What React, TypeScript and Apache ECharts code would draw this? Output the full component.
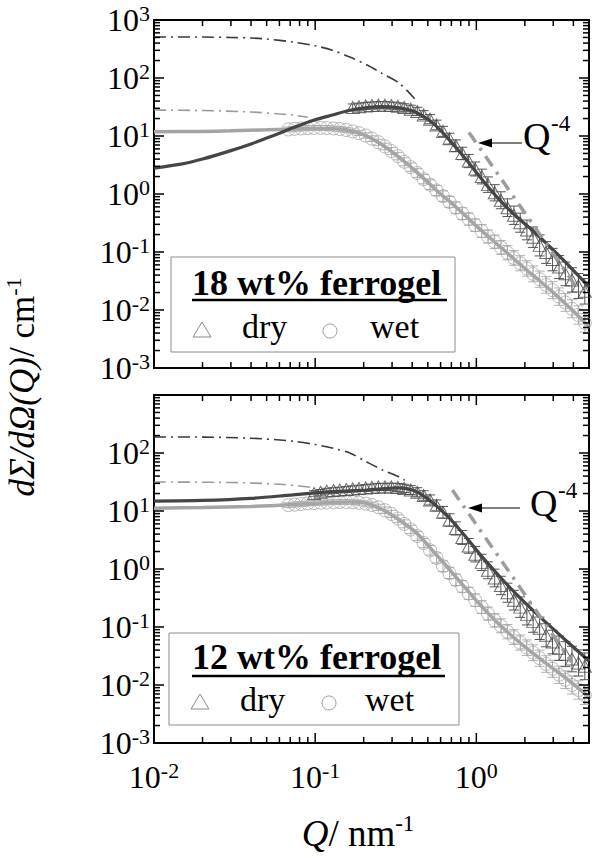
import React, { useEffect, useRef } from 'react';
import * as echarts from 'echarts';

// ---------- data ----------
// measured scattering vector grid, nm^-1
const qGrid = [
  0.0681, 0.0746, 0.0818, 0.0897, 0.0984, 0.108, 0.118, 0.130, 0.142, 0.156,
  0.171, 0.187, 0.206, 0.225, 0.247, 0.271, 0.297, 0.326, 0.357, 0.392,
  0.430, 0.471, 0.516, 0.566, 0.621, 0.681, 0.746, 0.818, 0.897, 0.984,
  1.08, 1.18, 1.30, 1.42, 1.56, 1.71, 1.87, 2.06, 2.25, 2.47,
  2.71, 2.97, 3.26, 3.57, 3.92, 4.30, 4.71,
];

// 18 wt% ferrogel
const iDry18 = [
  31, 32, 33, 33.5, 34, 34, 33.5, 32.5, 31, 29,
  26.5, 23, 19.5, 15.5, 12, 9, 6.8, 5.0, 3.7, 2.7,
  2.0, 1.45, 1.05, 0.78, 0.58, 0.43, 0.32, 0.24, 0.18, 0.13,
  0.098, 0.074, 0.055, 0.042, 0.033, 0.026, 0.021,
];
const eDry18 = [
  0.15, 0.15, 0.15, 0.15, 0.15, 0.15, 0.15, 0.15, 0.16, 0.17,
  0.18, 0.19, 0.2, 0.21, 0.22, 0.24, 0.26, 0.28, 0.3, 0.32,
  0.34, 0.36, 0.38, 0.4, 0.42, 0.44, 0.46, 0.48, 0.5, 0.52,
  0.54, 0.56, 0.58, 0.6, 0.62, 0.64, 0.66,
];
const iWet18 = [
  13.0, 13.3, 13.5, 13.7, 13.8, 13.8, 13.7, 13.5, 13.2, 12.7,
  12.0, 11.2, 10.2, 9.0, 7.8, 6.6, 5.5, 4.5, 3.6, 2.9,
  2.3, 1.8, 1.45, 1.15, 0.92, 0.73, 0.58, 0.46, 0.37, 0.29,
  0.23, 0.185, 0.15, 0.12, 0.097, 0.079, 0.064, 0.052, 0.042, 0.034,
  0.027, 0.022, 0.017, 0.0135, 0.0105, 0.0082, 0.006,
];
const eWet18 = [
  0.1, 0.1, 0.1, 0.1, 0.1, 0.1, 0.1, 0.1, 0.1, 0.1,
  0.1, 0.1, 0.11, 0.12, 0.13, 0.14, 0.15, 0.16, 0.17, 0.18,
  0.19, 0.2, 0.21, 0.22, 0.23, 0.24, 0.25, 0.26, 0.27, 0.28,
  0.29, 0.3, 0.31, 0.32, 0.33, 0.34, 0.35, 0.36, 0.37, 0.38,
  0.39, 0.4, 0.41, 0.42, 0.43, 0.44, 0.45,
];
const qFitDry18 = [0.01, 0.015, 0.02, 0.03, 0.04, 0.05, 0.06, 0.07, 0.085, 0.1, 0.128, 0.164, 0.209, 0.26, 0.333, 0.425, 0.534, 0.681, 0.867, 1.09, 1.39, 1.75, 2.22, 2.8, 3.61, 5.0];
const iFitDry18 = [2.8, 3.3, 4.0, 5.6, 7.3, 9.2, 11.2, 13.3, 16.3, 19.0, 23.0, 27.8, 31.0, 32.2, 30.5, 25.5, 17.0, 8.5, 3.9, 1.75, 0.8, 0.42, 0.24, 0.13, 0.065, 0.025];
const qFitWet18 = [0.01, 0.02, 0.03, 0.05, 0.07, 0.1, 0.13, 0.16, 0.2, 0.25, 0.3, 0.35, 0.4, 0.5, 0.6, 0.7, 0.85, 1.0, 1.2, 1.5, 2.0, 2.5, 3.0, 4.0, 5.0];
const iFitWet18 = [11.8, 12.0, 12.3, 12.8, 13.2, 13.6, 13.4, 12.6, 10.5, 7.6, 5.3, 3.8, 2.8, 1.6, 1.0, 0.7, 0.43, 0.28, 0.18, 0.105, 0.052, 0.031, 0.02, 0.0095, 0.0052];
const qGuinDry18 = [0.01, 0.02, 0.03, 0.04, 0.05, 0.0726, 0.1, 0.128, 0.164, 0.21, 0.26, 0.333, 0.42];
const iGuinDry18 = [510, 508, 500, 490, 470, 417, 360, 300, 230, 167, 120, 81, 42];
const qGuinWet18 = [0.01, 0.02, 0.04, 0.06, 0.0726, 0.09];
const iGuinWet18 = [28, 27.5, 26, 24, 23, 21];
const qSlope18 = [0.9, 4.3];
const iSlope18 = [11.5, 0.022];

// 12 wt% ferrogel
const iDry12 = [
  20, 21, 22, 22.5, 23, 23.5, 24, 24.5, 25, 25.5,
  26, 26, 26, 25.5, 24.5, 23, 21, 18.5, 15.5, 12.5,
  9.5, 7.0, 5.0, 3.5, 2.5, 1.8, 1.3, 0.95, 0.7, 0.52,
  0.39, 0.29, 0.22, 0.165, 0.125, 0.095, 0.072, 0.055, 0.043, 0.034,
  0.028, 0.024, 0.021,
];
const eDry12 = [
  0.12, 0.12, 0.12, 0.12, 0.12, 0.12, 0.13, 0.13, 0.14, 0.14,
  0.15, 0.15, 0.16, 0.17, 0.18, 0.19, 0.2, 0.21, 0.22, 0.24,
  0.26, 0.28, 0.3, 0.32, 0.34, 0.36, 0.38, 0.4, 0.42, 0.44,
  0.46, 0.48, 0.5, 0.52, 0.54, 0.56, 0.58, 0.6, 0.62, 0.64,
  0.66, 0.68, 0.7,
];
const iWet12 = [
  12.6, 12.9, 13.2, 13.5, 13.7, 13.9, 14.1, 14.2, 14.3, 14.3,
  14.2, 13.9, 13.4, 12.7, 11.6, 10.3, 8.9, 7.4, 6.0, 4.8,
  3.7, 2.8, 2.1, 1.55, 1.12, 0.85, 0.65, 0.5, 0.38, 0.29,
  0.22, 0.17, 0.13, 0.105, 0.083, 0.067, 0.054, 0.044, 0.036, 0.029,
  0.023, 0.019, 0.015, 0.0123, 0.01, 0.0082, 0.0067,
];
const eWet12 = [
  0.1, 0.1, 0.1, 0.1, 0.1, 0.1, 0.1, 0.1, 0.1, 0.1,
  0.1, 0.1, 0.11, 0.12, 0.13, 0.14, 0.15, 0.16, 0.17, 0.18,
  0.19, 0.2, 0.21, 0.22, 0.23, 0.24, 0.25, 0.26, 0.27, 0.28,
  0.29, 0.3, 0.31, 0.32, 0.33, 0.34, 0.35, 0.36, 0.37, 0.38,
  0.39, 0.4, 0.41, 0.42, 0.43, 0.44, 0.45,
];
const qFitDry12 = [0.01, 0.02, 0.04, 0.0726, 0.1, 0.128, 0.209, 0.333, 0.425, 0.534, 0.681, 0.867, 1.09, 1.39, 1.75, 2.22, 2.8, 3.61, 5.0];
const iFitDry12 = [14.8, 15.2, 16.5, 19, 20.5, 21.5, 23, 25, 21.5, 14, 7.5, 3.5, 1.6, 0.75, 0.38, 0.2, 0.11, 0.058, 0.026];
const qFitWet12 = [0.01, 0.02, 0.04, 0.07, 0.1, 0.13, 0.164, 0.209, 0.262, 0.333, 0.425, 0.534, 0.681, 0.867, 1.09, 1.39, 1.75, 2.22, 2.8, 3.61, 5.0];
const iFitWet12 = [11.2, 11.5, 12.0, 12.8, 13.6, 14.2, 14.3, 13.5, 10.5, 7.0, 4.2, 2.1, 0.98, 0.45, 0.22, 0.11, 0.062, 0.036, 0.022, 0.013, 0.0062];
const qGuinDry12 = [0.01, 0.02, 0.04, 0.0726, 0.1, 0.13, 0.164, 0.209, 0.262, 0.333, 0.36];
const iGuinDry12 = [189, 188, 180, 160, 140, 120, 100, 70, 51, 38.5, 34];
const qGuinWet12 = [0.01, 0.03, 0.06, 0.08, 0.1];
const iGuinWet12 = [31.6, 31, 29, 27, 25];
const qSlope12 = [0.71, 3.9];
const iSlope12 = [23, 0.025];

const panelTitles = ['18 wt% ferrogel', '12 wt% ferrogel'];
const legendNames = ['dry', 'wet'];

// ---------- helpers ----------
const FONT = 'Liberation Serif';
const pairs = (qs: number[], is: number[]) => qs.map((q, k) => [q, is[k]]);
const triples = (qs: number[], is: number[], es: number[]) => qs.map((q, k) => [q, is[k], es[k]]);

const DARK = '#454545';
const DRYMARK = '#4a4a4a';
const LIGHT = '#a5a5a5';

const richTick = {
  b: { fontSize: 32, fontFamily: FONT, color: '#000', lineHeight: 36 },
  s: { fontSize: 22, fontFamily: FONT, color: '#000', lineHeight: 18, verticalAlign: 'top' },
};

const expFmt = (hideTop: boolean) => (v: number) => {
  const e = Math.log10(v);
  const r = Math.round(e);
  if (Math.abs(e - r) > 1e-6) return '';
  if (hideTop && r === 3) return '';
  return `{b|10}{s|${r}}`;
};

// tick marks (major + minor) on all four sides of each frame
const tickData: number[][] = [];
for (let k = -2; k <= 0; k++) {
  for (let m = 1; m <= 9; m++) {
    const v = m * Math.pow(10, k);
    if (v <= 5.0001) tickData.push([v, 1, 0, m === 1 ? 1 : 0]);
  }
}
for (let k = -3; k <= 3; k++) {
  for (let m = 1; m <= 9; m++) {
    if (k === 3 && m > 1) break;
    tickData.push([0.1, m * Math.pow(10, k), 1, m === 1 ? 1 : 0]);
  }
}

const renderTick = (params: any, api: any) => {
  const cs = params.coordSys;
  const kind = api.value(2);
  const len = api.value(3) === 1 ? 10 : 6;
  const style = { stroke: '#000', lineWidth: 1.5 };
  if (kind === 0) {
    const px = api.coord([api.value(0), 1])[0];
    return {
      type: 'group',
      children: [
        { type: 'line', shape: { x1: px, y1: cs.y + cs.height, x2: px, y2: cs.y + cs.height - len }, style },
        { type: 'line', shape: { x1: px, y1: cs.y, x2: px, y2: cs.y + len }, style },
      ],
    };
  }
  const py = api.coord([0.1, api.value(1)])[1];
  return {
    type: 'group',
    children: [
      { type: 'line', shape: { x1: cs.x, y1: py, x2: cs.x + len, y2: py }, style },
      { type: 'line', shape: { x1: cs.x + cs.width, y1: py, x2: cs.x + cs.width - len, y2: py }, style },
    ],
  };
};

const makeErrRender = (color: string) => (params: any, api: any) => {
  const q = api.value(0);
  const i = api.value(1);
  const e = api.value(2);
  const top = api.coord([q, i * (1 + e)]);
  const bot = api.coord([q, i / (1 + e)]);
  const style = { stroke: color, lineWidth: 1 };
  return {
    type: 'group',
    children: [
      { type: 'line', shape: { x1: top[0], y1: top[1], x2: bot[0], y2: bot[1] }, style },
      { type: 'line', shape: { x1: top[0] - 5, y1: top[1], x2: top[0] + 5, y2: top[1] }, style },
      { type: 'line', shape: { x1: bot[0] - 5, y1: bot[1], x2: bot[0] + 5, y2: bot[1] }, style },
    ],
  };
};

const panelSeries = (
  idx: number,
  dry: number[][],
  wet: number[][],
  fitDry: number[][],
  fitWet: number[][],
  guinDry: number[][],
  guinWet: number[][],
  slope: number[][],
) => [
  {
    type: 'custom', xAxisIndex: idx, yAxisIndex: idx, data: wet, renderItem: makeErrRender('#b0b0b0'), z: 1, silent: true, clip: true,
  },
  {
    type: 'scatter', xAxisIndex: idx, yAxisIndex: idx, data: wet.map((d) => [d[0], d[1]]), symbol: 'circle', symbolSize: 13,
    itemStyle: { color: 'rgba(0,0,0,0)', borderColor: LIGHT, borderWidth: 1 }, z: 2, silent: true,
  },
  {
    type: 'custom', xAxisIndex: idx, yAxisIndex: idx, data: dry, renderItem: makeErrRender('#555'), z: 2, silent: true, clip: true,
  },
  {
    type: 'scatter', xAxisIndex: idx, yAxisIndex: idx, data: dry.map((d) => [d[0], d[1]]), symbol: 'triangle', symbolSize: [13, 12],
    itemStyle: { color: 'rgba(0,0,0,0)', borderColor: DRYMARK, borderWidth: 1 }, z: 3, silent: true,
  },
  {
    type: 'line', xAxisIndex: idx, yAxisIndex: idx, data: fitWet, showSymbol: false, smooth: 0.3,
    lineStyle: { color: LIGHT, width: 3.5 }, z: 4, silent: true,
  },
  {
    type: 'line', xAxisIndex: idx, yAxisIndex: idx, data: fitDry, showSymbol: false, smooth: 0.3,
    lineStyle: { color: DARK, width: 3.2 }, z: 5, silent: true,
  },
  {
    type: 'line', xAxisIndex: idx, yAxisIndex: idx, data: guinDry, showSymbol: false, smooth: 0.3,
    lineStyle: { color: '#3a3a3a', width: 1.6, type: [12, 5, 2, 5] }, z: 5, silent: true,
  },
  {
    type: 'line', xAxisIndex: idx, yAxisIndex: idx, data: guinWet, showSymbol: false, smooth: 0.3,
    lineStyle: { color: '#9a9a9a', width: 1.6, type: [12, 5, 2, 5] }, z: 5, silent: true,
  },
  {
    type: 'line', xAxisIndex: idx, yAxisIndex: idx, data: slope, showSymbol: false,
    lineStyle: { color: '#9c9c9c', width: 3.5, type: [12, 7, 3, 7] }, z: 6, silent: true,
  },
  {
    type: 'custom', xAxisIndex: idx, yAxisIndex: idx, data: tickData, renderItem: renderTick, z: 10, silent: true, clip: false,
  },
];

const legendGroup = (
  box: { x: number; y: number; w: number; h: number },
  title: string,
  titleY: number,
  underlineY: number,
  underlineEnd: number,
  rowY: number,
  triY: number,
  triX: number,
  circ: { x: number; y: number },
  dryX: number,
  wetX: number,
) => [
  { type: 'rect', shape: { x: box.x, y: box.y, width: box.w, height: box.h }, style: { fill: '#fff', stroke: '#8c8c8c', lineWidth: 1 }, z: 20 },
  { type: 'text', x: 192, y: titleY, style: { text: title, fill: '#000', font: `bold 36px ${FONT}`, align: 'left', verticalAlign: 'middle' }, z: 21 },
  { type: 'line', shape: { x1: 192, y1: underlineY, x2: underlineEnd, y2: underlineY }, style: { stroke: '#000', lineWidth: 2.5 }, z: 21 },
  { type: 'polygon', shape: { points: [[triX, triY - 8], [triX + 9, triY + 7], [triX - 9, triY + 7]] }, style: { fill: 'none', stroke: '#8a8a8a', lineWidth: 1 }, z: 21 },
  { type: 'text', x: dryX, y: rowY, style: { text: legendNames[0], fill: '#000', font: `34px ${FONT}`, align: 'left', verticalAlign: 'middle' }, z: 21 },
  { type: 'circle', shape: { cx: circ.x, cy: circ.y, r: 7 }, style: { fill: 'none', stroke: '#a0a0a0', lineWidth: 1 }, z: 21 },
  { type: 'text', x: wetX, y: rowY, style: { text: legendNames[1], fill: '#000', font: `34px ${FONT}`, align: 'left', verticalAlign: 'middle' }, z: 21 },
];

const annot = (qx: number, qy: number, supY: number, lineY: number, x1: number, headX: number) => [
  { type: 'text', x: qx, y: qy, style: { text: 'Q', fill: '#000', font: `38px ${FONT}`, align: 'left', verticalAlign: 'middle' }, z: 21 },
  { type: 'text', x: qx + 28, y: supY, style: { text: '-4', fill: '#000', font: `23px ${FONT}`, align: 'left', verticalAlign: 'middle' }, z: 21 },
  { type: 'line', shape: { x1, y1: lineY, x2: headX + 12, y2: lineY }, style: { stroke: '#555', lineWidth: 1.5 }, z: 21 },
  { type: 'polygon', shape: { points: [[headX, lineY], [headX + 14, lineY - 4.5], [headX + 14, lineY + 4.5]] }, style: { fill: '#000' }, z: 21 },
];

const baseAxis = {
  type: 'log',
  logBase: 10,
  axisLine: { show: false },
  axisTick: { show: false },
  minorTick: { show: false },
  splitLine: { show: false },
  minorSplitLine: { show: false },
};

export default function App() {
  const ref = useRef<HTMLDivElement>(null);
  useEffect(() => {
    if (!ref.current) return;
    const chart = echarts.init(ref.current, undefined, { renderer: 'svg' });
    const grid = { left: 154, width: 435, height: 348, show: true, borderColor: '#000', borderWidth: 2, backgroundColor: 'transparent' };
    chart.setOption({
      animation: false,
      backgroundColor: '#fff',
      textStyle: { fontFamily: FONT },
      grid: [
        { ...grid, top: 20 },
        { ...grid, top: 395 },
      ],
      xAxis: [
        { ...baseAxis, gridIndex: 0, min: 0.01, max: 5, axisLabel: { show: false } },
        { ...baseAxis, gridIndex: 1, min: 0.01, max: 5, axisLabel: { formatter: expFmt(false), rich: richTick, margin: 16, showMaxLabel: false } },
      ],
      yAxis: [
        { ...baseAxis, gridIndex: 0, min: 0.001, max: 1000, axisLabel: { formatter: expFmt(false), rich: richTick, margin: 4 } },
        { ...baseAxis, gridIndex: 1, min: 0.001, max: 1000, axisLabel: { formatter: expFmt(true), rich: richTick, margin: 4 } },
      ],
      series: [
        ...panelSeries(0, triples(qGrid.slice(10), iDry18, eDry18), triples(qGrid, iWet18, eWet18), pairs(qFitDry18, iFitDry18), pairs(qFitWet18, iFitWet18), pairs(qGuinDry18, iGuinDry18), pairs(qGuinWet18, iGuinWet18), pairs(qSlope18, iSlope18)),
        ...panelSeries(1, triples(qGrid.slice(4), iDry12, eDry12), triples(qGrid, iWet12, eWet12), pairs(qFitDry12, iFitDry12), pairs(qFitWet12, iFitWet12), pairs(qGuinDry12, iGuinDry12), pairs(qGuinWet12, iGuinWet12), pairs(qSlope12, iSlope12)),
      ],
      graphic: [
        {
          type: 'text', x: 22, y: 387, rotation: Math.PI / 2,
          style: {
            text: '{i|dΣ/dΩ(Q)}{n|/ cm}{s|-1}', fill: '#000', align: 'center', verticalAlign: 'middle',
            rich: {
              i: { fontSize: 35, fontStyle: 'italic', fontFamily: FONT, lineHeight: 40 },
              n: { fontSize: 35, fontFamily: FONT, lineHeight: 40 },
              s: { fontSize: 22, fontFamily: FONT, lineHeight: 20, verticalAlign: 'top' },
            },
          },
        },
        {
          type: 'text', x: 358, y: 833,
          style: {
            text: '{i|Q}{n|/ nm}{s|-1}', fill: '#000', align: 'center', verticalAlign: 'middle',
            rich: {
              i: { fontSize: 37, fontStyle: 'italic', fontFamily: FONT, lineHeight: 42 },
              n: { fontSize: 37, fontFamily: FONT, lineHeight: 42 },
              s: { fontSize: 23, fontFamily: FONT, lineHeight: 20, verticalAlign: 'top' },
            },
          },
        },
        ...legendGroup({ x: 171, y: 257, w: 284, h: 95 }, panelTitles[0], 283, 300, 447, 326, 330, 202, { x: 330, y: 331 }, 242, 370),
        ...legendGroup({ x: 169, y: 633, w: 290, h: 92 }, panelTitles[1], 657, 676, 445, 699, 702, 200, { x: 329, y: 703 }, 240, 365),
        ...annot(523, 136, 123, 143, 522, 478),
        ...annot(530, 503, 490, 508, 520, 468),
      ],
    });
    return () => chart.dispose();
  }, []);
  return <div ref={ref} style={{ position: 'absolute', left: 0, top: 0, width: 600, height: 858 }} />;
}
